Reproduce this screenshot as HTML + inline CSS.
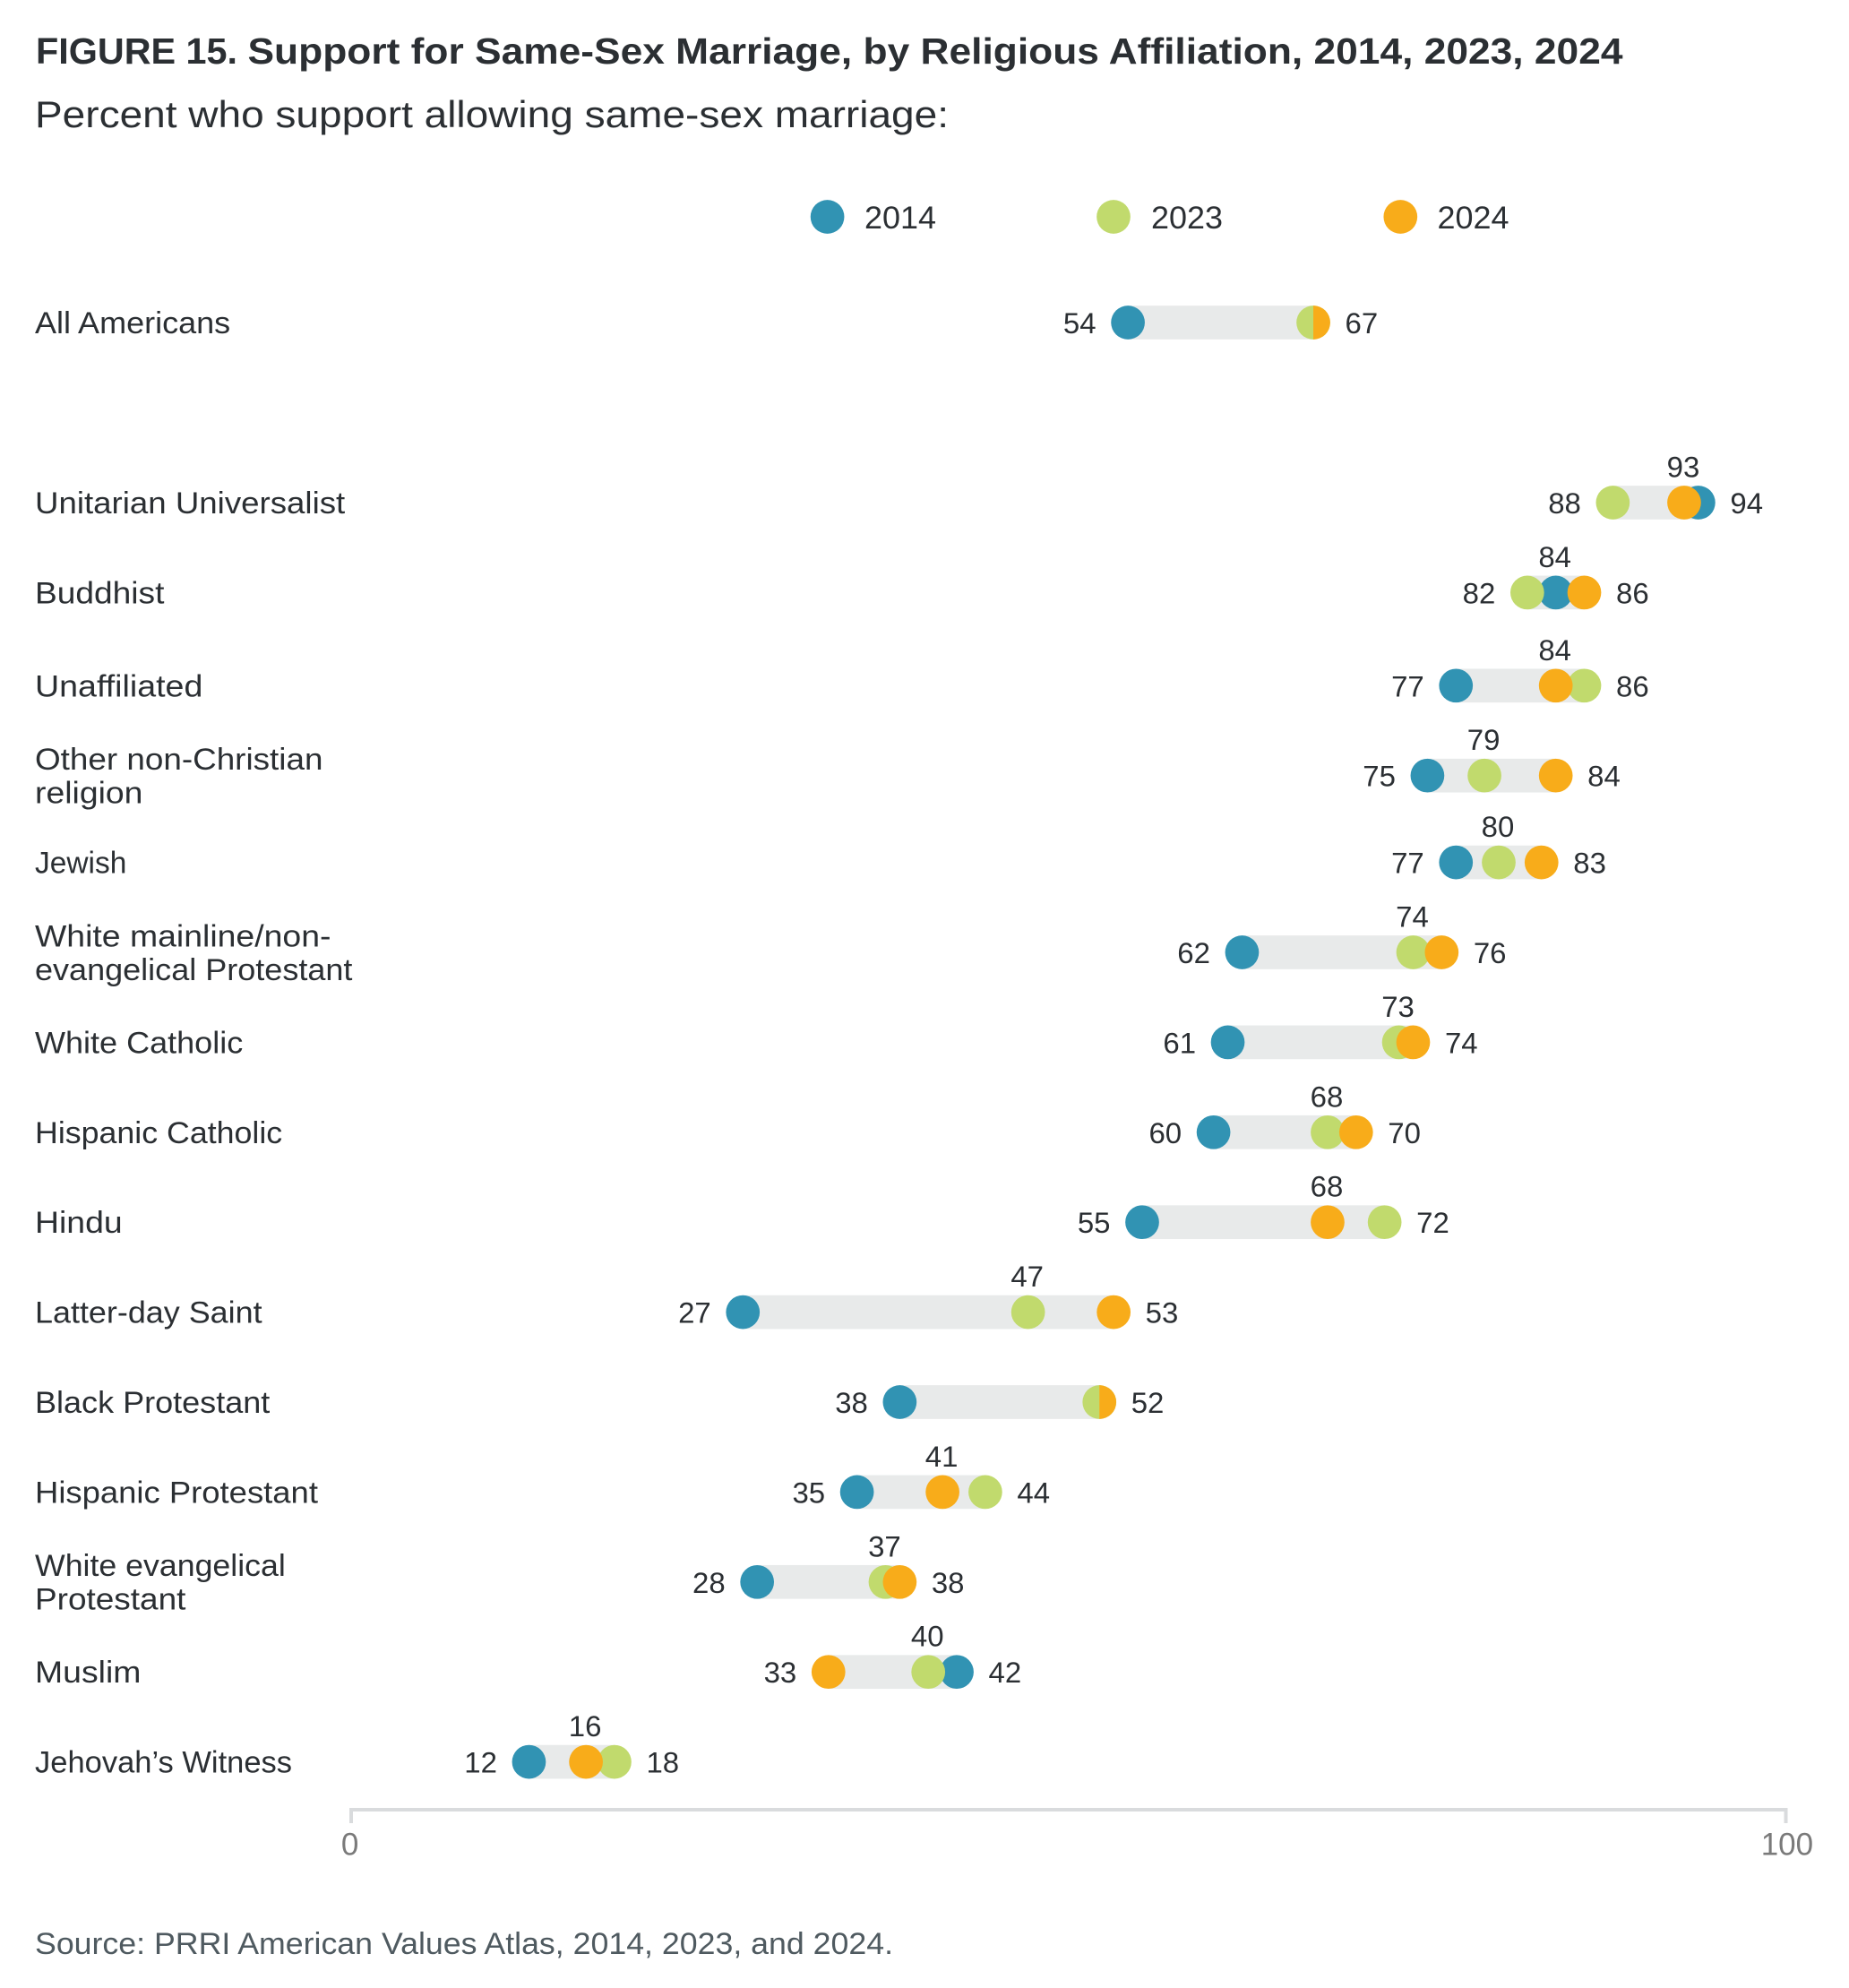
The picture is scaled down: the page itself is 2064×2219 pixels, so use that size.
<!DOCTYPE html>
<html lang="en">
<head>
<meta charset="utf-8">
<title>Support for Same-Sex Marriage, by Religious Affiliation</title>
<style>
html,body{margin:0;padding:0;background:#fff;}
svg{display:block;}
text{font-family:"Liberation Sans",sans-serif;fill:#2b2f33;white-space:pre;}
</style>
</head>
<body>
<svg id="chart" xmlns="http://www.w3.org/2000/svg" width="2064" height="2219" viewBox="0 0 2064 2219">
  <rect x="0" y="0" width="2064" height="2219" fill="#ffffff"/>
  <g>
    <text x="40" y="71" font-size="41" font-weight="700" textLength="225" lengthAdjust="spacingAndGlyphs">FIGURE 15.</text>
    <text x="276.5" y="71" font-size="41" font-weight="700" textLength="1535" lengthAdjust="spacingAndGlyphs">Support for Same-Sex Marriage, by Religious Affiliation, 2014, 2023, 2024</text>
  </g>
  <text x="39" y="142" font-size="42" textLength="1020" lengthAdjust="spacingAndGlyphs">Percent who support allowing same-sex marriage:</text>
  <g>
    <g>
      <circle cx="923.6" cy="242" r="18.85" fill="#3193b3"/>
      <text x="965" y="255" font-size="35" textLength="80" lengthAdjust="spacingAndGlyphs">2014</text>
    </g>
    <g>
      <circle cx="1243" cy="242" r="18.85" fill="#c1da6d"/>
      <text x="1285" y="255" font-size="35" textLength="80" lengthAdjust="spacingAndGlyphs">2023</text>
    </g>
    <g>
      <circle cx="1563.3" cy="242" r="18.85" fill="#f8ac1a"/>
      <text x="1604.5" y="255" font-size="35" textLength="80" lengthAdjust="spacingAndGlyphs">2024</text>
    </g>
  </g>
  <g id="rows"></g>
  <g id="axis"></g>
  <text x="39" y="2181" font-size="34" style="fill:#4f5a60" textLength="958" lengthAdjust="spacingAndGlyphs">Source: PRRI American Values Atlas, 2014, 2023, and 2024.</text>
</svg>
<script>
const categories = ["All Americans","Unitarian Universalist","Buddhist","Unaffiliated","Other non-Christian|religion","Jewish","White mainline/non-|evangelical Protestant","White Catholic","Hispanic Catholic","Hindu","Latter-day Saint","Black Protestant","Hispanic Protestant","White evangelical|Protestant","Muslim","Jehovah\u2019s Witness"];
const values2014 = [54,94,84,77,75,77,62,61,60,55,27,38,35,28,42,12];
const values2023 = [67,88,82,86,79,80,74,73,68,72,47,52,44,37,40,18];
const values2024 = [67,93,86,84,84,83,76,74,70,68,53,52,41,38,33,16];
const tickValues = [0,100];
const tickLabels = ["0","100"];

const SVG_NS = "http://www.w3.org/2000/svg";
const BLUE = "#3193b3", GREEN = "#c1da6d", ORANGE = "#f8ac1a";
const R = 18.85;
// Horizontal glyph stretch per label line, to mimic the reference typeface widths.
const labelStretch = {
  "Unitarian Universalist":1.078,"Buddhist":1.092,"Unaffiliated":1.106,
  "Other non-Christian":1.084,"religion":1.099,"Jewish":0.985,
  "White mainline/non-":1.10,"Hispanic Catholic":1.052,"Hindu":1.10,
  "Latter-day Saint":1.057,"Hispanic Protestant":1.072,"White evangelical":1.05,
  "Protestant":1.087,"Muslim":1.10,"Jehovah\u2019s Witness":1.015
};
const xDot = v => 399.4 + 15.92 * v;
const xTick = v => 392 + 16.015 * v;
const yRow = i => {
  if (i === 0) return 360;
  const k = i - 1;
  return 561 + 100.4 * k + (k === 2 || k === 3 ? 3.5 : 0);
};
function make(tag, parent) {
  const el = document.createElementNS(SVG_NS, tag);
  parent.appendChild(el);
  return el;
}
function slug(s) {
  return s.replace(/\|/g, " ").toLowerCase().replace(/[^a-z0-9]+/g, "-").replace(/^-|-$/g, "");
}
function placeText(el, x, y, sx, anchor, size, str) {
  el.setAttribute("transform", "translate(" + x + "," + y + ") scale(" + sx + ",1)");
  el.setAttribute("text-anchor", anchor);
  el.setAttribute("font-size", size);
  el.textContent = str;
}

const rowsRoot = document.getElementById("rows");
categories.forEach((cat, i) => {
  const y = yRow(i);
  const name = slug(cat);
  const g = make("g", rowsRoot);
  
  

  const lines = cat.split("|");
  lines.forEach((line, li) => {
    const t = make("text", g);
    
    
    const by = lines.length === 1 ? y + 12 : y - 6.7 + li * 37.5;
    placeText(t, 39, by, labelStretch[line] || 1.06, "start", 34, line);
  });

  const a = values2014[i], b = values2023[i], c = values2024[i];
  const lo = Math.min(a, b, c), hi = Math.max(a, b, c);

  const bar = make("rect", g);
  
  
  bar.setAttribute("x", xDot(lo));
  bar.setAttribute("y", y - R);
  bar.setAttribute("width", xDot(hi) - xDot(lo));
  bar.setAttribute("height", R * 2);
  bar.setAttribute("fill", "#e8eaea");

  const d14 = make("circle", g);
  
  
  d14.setAttribute("cx", xDot(a));
  d14.setAttribute("cy", y);
  d14.setAttribute("r", R);
  d14.setAttribute("fill", BLUE);

  const d23 = make("circle", g);
  
  
  d23.setAttribute("cx", xDot(b));
  d23.setAttribute("cy", y);
  d23.setAttribute("r", R);
  d23.setAttribute("fill", GREEN);

  if (b === c) {
    const half = make("path", g);
    
    
    half.setAttribute("d", "M" + xDot(c) + " " + (y - R) + " A" + R + " " + R + " 0 0 1 " + xDot(c) + " " + (y + R) + " Z");
    half.setAttribute("fill", ORANGE);
  } else {
    const d24 = make("circle", g);
    
    
    d24.setAttribute("cx", xDot(c));
    d24.setAttribute("cy", y);
    d24.setAttribute("r", R);
    d24.setAttribute("fill", ORANGE);
  }

  const lowLabel = make("text", g);
  
  
  placeText(lowLabel, xDot(lo) - 35.5, y + 12, 1.03, "end", 32, String(lo));

  const highLabel = make("text", g);
  
  
  placeText(highLabel, xDot(hi) + 35.5, y + 12, 1.03, "start", 32, String(hi));

  const sorted = [a, b, c].sort((p, q) => p - q);
  if (sorted[1] !== lo && sorted[1] !== hi) {
    const midLabel = make("text", g);
    
    
    placeText(midLabel, xDot(sorted[1]) - 1, y - 28.5, 1.03, "middle", 32, String(sorted[1]));
  }
});

const axisRoot = document.getElementById("axis");
const axisLine = make("path", axisRoot);


axisLine.setAttribute("d", "M" + xTick(tickValues[0]) + " 2035 V2020 H" + xTick(tickValues[tickValues.length - 1]) + " V2035");
axisLine.setAttribute("fill", "none");
axisLine.setAttribute("stroke", "#d9dbdd");
axisLine.setAttribute("stroke-width", "4");

tickValues.forEach((v, i) => {
  const t = make("text", axisRoot);
  
  
  placeText(t, xTick(v) + (v === 0 ? -1.4 : 1.4), 2070.5, 1, "middle", 35, tickLabels[i]);
  t.style.fill = "#7a7a7a";
});
</script>
</body>
</html>
